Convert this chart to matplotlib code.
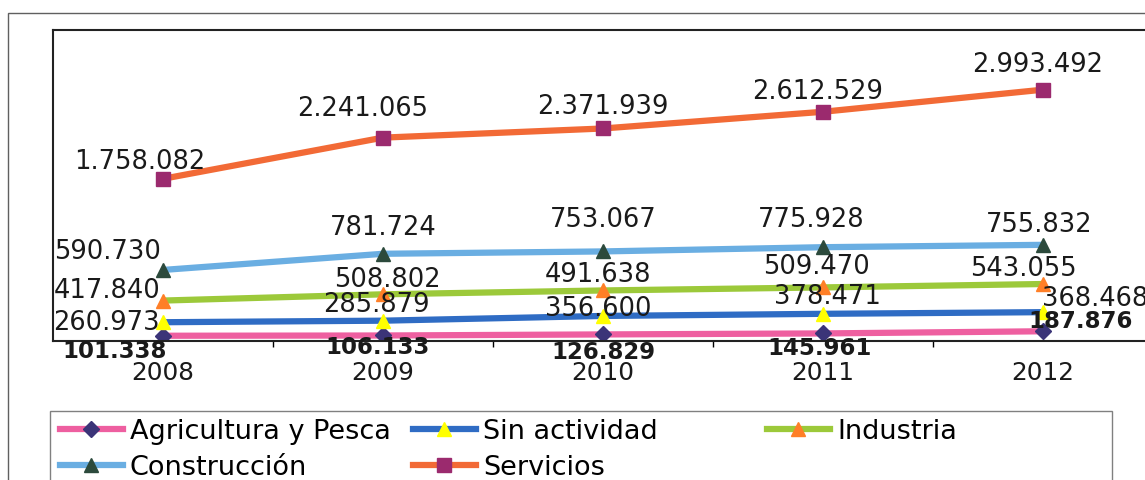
#import libraries
import matplotlib
matplotlib.use('Agg')
import matplotlib.pyplot as plt
from matplotlib.lines import Line2D
from matplotlib.patches import Rectangle
import numpy as np

#data
years = ['2008', '2009', '2010', '2011', '2012']
agricultura = [101338, 106133, 126829, 145961, 187876]
sin_actividad = [260973, 285879, 356600, 378471, 368468]
industria = [417840, 508802, 491638, 509470, 543055]
construccion = [590730, 781724, 753067, 775928, 755832]
servicios = [1758082, 2241065, 2371939, 2612529, 2993492]

names = ['Agricultura y Pesca', 'Sin actividad', 'Industria', 'Construcción', 'Servicios']
series = [agricultura, sin_actividad, industria, construccion, servicios]

#styles: line colour, marker, marker colour
line_colors = ['#EE5FA0', '#2F6CC4', '#9CC93A', '#6AAEE2', '#F26A36']
markers = ['D', '^', '^', '^', 's']
marker_colors = ['#3B3478', '#FFFF00', '#FF7F27', '#2C4A3C', '#9B2A6E']
marker_sizes = [8, 9.5, 9.5, 9.5, 9.5]

#label offsets in pixels (dx, dy) from each point, like the Excel placement
label_offsets = [
    [(-48, -15), (-5, -11), (0, -17), (-3, -14), (38, 11)],
    [(-57, 0), (-7, 17), (-5, 8), (4, 18), (52, 14)],
    [(-56, 11), (4, 15), (-5, 16), (-7, 21), (-20, 16)],
    [(-56, 19), (0, 27), (0, 32), (-12, 28), (-4, 21)],
    [(-23, 18), (-20, 30), (0, 22), (-5, 21), (-5, 26)],
]

plt.rcParams['font.family'] = ['DejaVu Sans']

W, H = 1145, 481
fig = plt.figure(figsize=(W / 100, H / 100), dpi=100)

#chart area border (runs past the right and bottom edges)
fig.patches.append(Rectangle((8 / W, -0.1), 1.2, 1 - 14 / H + 0.1, transform=fig.transFigure,
                             fill=False, edgecolor='#606060', lw=1))

#plot area
ax = fig.add_axes([53 / W, 1 - 342 / H, 1100 / W, 311 / H])
x = np.arange(len(years))

#stacked line chart
stacked = np.cumsum(np.array(series, dtype=float), axis=0)

for i in range(len(series)):
    ax.plot(x, stacked[i], color=line_colors[i], lw=4.5, marker=markers[i], ms=marker_sizes[i],
            mfc=marker_colors[i], mec=marker_colors[i], solid_capstyle='butt', zorder=2 + i)

#data labels (individual values, not the stacked ones)
for i in range(len(series)):
    for j in range(len(years)):
        txt = f"{series[i][j]:,}".replace(',', '.')
        bold = i == 0
        ax.annotate(txt, (x[j], stacked[i][j]), xytext=label_offsets[i][j], textcoords='offset pixels',
                    ha='center', va='center', fontsize=16.5 if bold else 18.5,
                    fontweight='bold' if bold else 'normal', color='#1a1a1a', zorder=10,
                    annotation_clip=False)

ax.set_xlim(-0.5, 4.5)
ax.set_ylim(0, 6000000)
ax.set_xticks(x)
ax.set_xticklabels(years, fontsize=17.8, color='#1a1a1a')
ax.set_xticks(x[:-1] + 0.5, minor=True)
ax.tick_params(axis='x', which='major', length=0, pad=14)
ax.tick_params(axis='x', which='minor', length=4, width=1, direction='out')
ax.set_yticks([])
for side in ['left', 'top', 'bottom']:
    ax.spines[side].set_color('#222222')
    ax.spines[side].set_linewidth(1.5)
ax.spines['right'].set_visible(False)

#legend box
fig.patches.append(Rectangle((50 / W, -0.1), (1112 - 50) / W, 1 - 412 / H + 0.1,
                             transform=fig.transFigure, fill=False, edgecolor='#808080', lw=1))

#legend entries, filled row by row like Excel
legend_x = [60, 413, 767, 60, 413]
legend_y = [432, 432, 432, 468, 468]
for i in range(len(series)):
    handle = Line2D([], [], color=line_colors[i], lw=4.5, marker=markers[i], ms=marker_sizes[i],
                    mfc=marker_colors[i], mec=marker_colors[i])
    fig.legend([handle], [names[i]], loc='center left',
               bbox_to_anchor=(legend_x[i] / W, 1 - legend_y[i] / H), frameon=False,
               borderpad=0, borderaxespad=0, handlelength=2.32, handletextpad=0.26,
               fontsize=19.5)

plt.savefig('out.png', dpi=100)
